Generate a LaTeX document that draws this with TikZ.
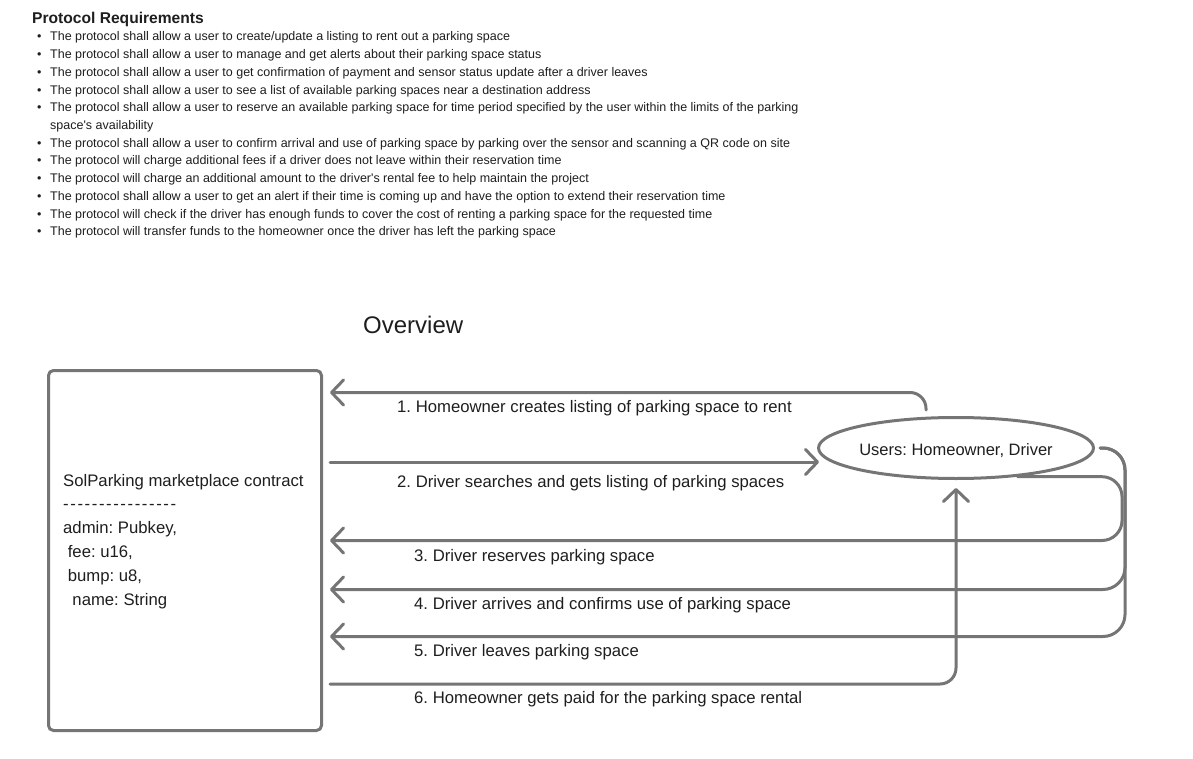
\documentclass[tikz,border=0pt]{standalone}
\usepackage{fontspec}
\setmainfont{Liberation Sans}
\usetikzlibrary{arrows.meta,shapes.geometric}
\definecolor{lineGrey}{RGB}{117,117,117}
\definecolor{inkText}{RGB}{30,30,30}
\newcommand{\dsh}{-\kern1.6pt}
\frenchspacing
\tikzset{
  flow/.style={color=lineGrey, line width=3pt, line cap=round, line join=round,
    -{Straight Barb[length=12pt,width=25pt,round]}},
  reqtext/.style={anchor=base west, inner sep=0pt, text=inkText, font=\fontsize{12.5}{15}\selectfont},
  lbl/.style={anchor=base west, inner sep=0pt, text=inkText, font=\fontsize{16.7}{20}\selectfont},
}
\begin{document}
\begin{tikzpicture}[x=1pt,y=1pt,yscale=-1]
\useasboundingbox (0,0) rectangle (1193,759);

% Text Node
\node[anchor=base west, inner sep=0pt, text=inkText, font=\fontsize{15.6}{18}\selectfont\bfseries] (reqTitle) at (32,24) {Protocol Requirements};
% Text Node
\node[reqtext] (req1) at (37,41) {\textbullet\hspace{8.6pt}The protocol shall allow a user to create/update a listing to rent out a parking space};
% Text Node
\node[reqtext] (req2) at (37,58.7) {\textbullet\hspace{8.6pt}The protocol shall allow a user to manage and get alerts about their parking space status};
% Text Node
\node[reqtext] (req3) at (37,76.4) {\textbullet\hspace{8.6pt}The protocol shall allow a user to get confirmation of payment and sensor status update after a driver leaves};
% Text Node
\node[reqtext] (req4) at (37,94.2) {\textbullet\hspace{8.6pt}The protocol shall allow a user to see a list of available parking spaces near a destination address};
% Text Node
\node[reqtext] (req5) at (37,111.9) {\textbullet\hspace{8.6pt}The protocol shall allow a user to reserve an available parking space for time period specified by the user within the limits of the parking};
% Text Node
\node[reqtext] (req5b) at (50,129.6) {space\textquotesingle s availability};
% Text Node
\node[reqtext] (req6) at (37,147.3) {\textbullet\hspace{8.6pt}The protocol shall allow a user to confirm arrival and use of parking space by parking over the sensor and scanning a QR code on site};
% Text Node
\node[reqtext] (req7) at (37,165) {\textbullet\hspace{8.6pt}The protocol will charge additional fees if a driver does not leave within their reservation time};
% Text Node
\node[reqtext] (req8) at (37,182.8) {\textbullet\hspace{8.6pt}The protocol will charge an additional amount to the driver\textquotesingle s rental fee to help maintain the project};
% Text Node
\node[reqtext] (req9) at (37,200.5) {\textbullet\hspace{8.6pt}The protocol shall allow a user to get an alert if their time is coming up and have the option to extend their reservation time};
% Text Node
\node[reqtext] (req10) at (37,218.2) {\textbullet\hspace{8.6pt}The protocol will check if the driver has enough funds to cover the cost of renting a parking space for the requested time};
% Text Node
\node[reqtext] (req11) at (37,236) {\textbullet\hspace{8.6pt}The protocol will transfer funds to the homeowner once the driver has left the parking space};

% Text Node
\node[anchor=base west, inner sep=0pt, text=inkText, font=\fontsize{24}{28}\selectfont] (overview) at (363,333) {Overview};

%Shape: Rectangle
\node[draw=lineGrey, line width=3pt, rounded corners=5pt, minimum width=273pt, minimum height=360pt, inner sep=0pt] (contract) at (185,550.5) {};
%Shape: Ellipse
\node[draw=lineGrey, line width=3pt, ellipse, minimum width=275pt, minimum height=61pt, inner sep=0pt, text height=14pt, text depth=0pt, text=inkText, font=\fontsize{16.5}{20}\selectfont] (users) at (956,448) {Users: Homeowner, Driver};

% Text Node
\node[lbl] (contractName) at (63,486) {SolParking marketplace contract};
\node[lbl] (contractRule) at (63,509.8) {\dsh\dsh\dsh\dsh\dsh\dsh\dsh\dsh\dsh\dsh\dsh\dsh\dsh\dsh\dsh-};
\node[lbl] (contractAdmin) at (63,533.6) {admin: Pubkey,};
\node[lbl] (contractFee) at (63,557.4) {\ fee: u16,};
\node[lbl] (contractBump) at (63,581.2) {\ bump: u8,};
\node[lbl] (contractNameField) at (63,605) {\ \ name: String};

%Straight Lines
\coordinate (row1) at (0,392.5);
\coordinate (row2) at (0,462);
\coordinate (row3) at (0,540.5);
\coordinate (row4) at (0,589.5);
\coordinate (row5) at (0,636.5);
\coordinate (row6) at (0,684);
\draw[flow, rounded corners=16pt, shorten >=7pt] ([xshift=-30pt,yshift=-6pt]users.north) |- (contract.east |- row1);
\draw[flow, shorten <=7pt] (contract.east |- row2) -- ([xshift=2pt,yshift=14pt]users.west);
\draw[flow, rounded corners=20pt, shorten >=7pt] (users.-25) -- ++(104.5,0) |- (contract.east |- row3);
\draw[flow, rounded corners=22pt, shorten >=7pt] ([xshift=5pt]users.east) -- ++(25,0) |- (contract.east |- row4);
\draw[flow, rounded corners=22pt, shorten >=7pt] ([xshift=5pt]users.east) -- ++(25,0) |- (contract.east |- row5);
\draw[flow, rounded corners=16pt, shorten <=7pt] (contract.east |- row6) -| ([yshift=8pt]users.south);

% Text Node
\node[lbl] (step1) at (397,412) {1. Homeowner creates listing of parking space to rent};
% Text Node
\node[lbl] (step2) at (397,487) {2. Driver searches and gets listing of parking spaces};
% Text Node
\node[lbl] (step3) at (414,561) {3. Driver reserves parking space};
% Text Node
\node[lbl] (step4) at (414,609) {4. Driver arrives and confirms use of parking space};
% Text Node
\node[lbl] (step5) at (414,656) {5. Driver leaves parking space};
% Text Node
\node[lbl] (step6) at (414,703) {6. Homeowner gets paid for the parking space rental};

\end{tikzpicture}
\end{document}
